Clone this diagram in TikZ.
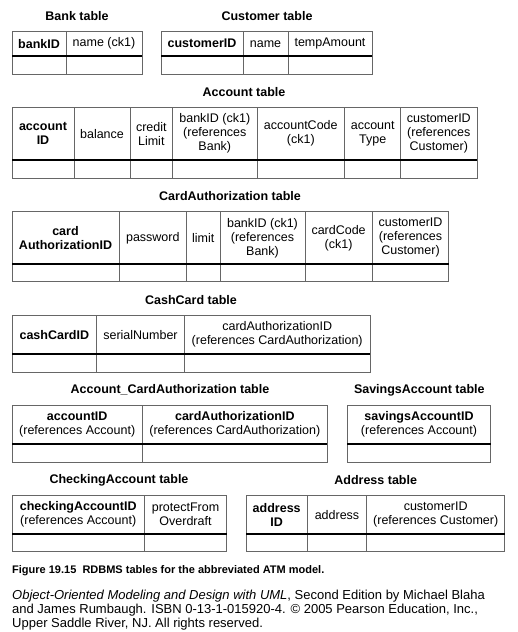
\documentclass[tikz,border=0pt]{standalone}
\usepackage{fontspec}
\setmainfont{Liberation Sans}
\usetikzlibrary{positioning}
\tikzset{
  ttl/.style={font=\fontsize{12.5}{14}\selectfont\bfseries},
  hd/.style={align=center, inner sep=0pt, font=\fontsize{12.5}{14}\selectfont},
  grid/.style={draw=black!60, line width=0.8pt},
  sepline/.style={draw=black, line width=2pt},
  capt/.style={anchor=west, inner sep=0pt, align=left, font=\fontsize{11}{14}\selectfont}
}
\begin{document}
\begin{tikzpicture}[x=1pt, y=-1pt]
	\useasboundingbox (0,0) rectangle (518,632);
	% Bank
	\node[ttl] (banktitle) at (77,16) {Bank table};
	\draw[grid] (12,31.7) rectangle (142,74);
	\draw[grid] (66,31.7) -- (66,74);
	\draw[sepline] (12,55.7) -- (142,55.7);
	\node[hd] (bankid) at (39,43.7) {\textbf{bankID}};
	\node[hd] (bankname) at (104,43.7) {name (ck1)};
	% Customer
	\node[ttl] (custtitle) at (267,16) {Customer table};
	\draw[grid] (161,31.7) rectangle (372,74);
	\foreach \x in {243,288} \draw[grid] (\x,31.7) -- (\x,74);
	\draw[sepline] (161,55.7) -- (372,55.7);
	\node[hd] (custid) at (202,43.7) {\textbf{customerID}};
	\node[hd] (custname) at (265.5,43.7) {name};
	\node[hd] (custamount) at (330,43.7) {tempAmount};
	% Account
	\node[ttl] (accttitle) at (244,92) {Account table};
	\draw[grid] (12,107.7) rectangle (477,178);
	\foreach \x in {74,130,172.7,257,344.7,400.7} \draw[grid] (\x,107.7) -- (\x,178);
	\draw[sepline] (12,159.7) -- (477,159.7);
	\node[hd] (acctid) at (43,133.7) {\textbf{account}\\\textbf{ID}};
	\node[hd] (acctbal) at (102,133.7) {balance};
	\node[hd] (acctlimit) at (151.3,133.7) {credit\\Limit};
	\node[hd] (acctbank) at (214.8,133.7) {bankID (ck1)\\(references\\Bank)};
	\node[hd] (acctcode) at (300.8,133.7) {accountCode\\(ck1)};
	\node[hd] (accttype) at (372.7,133.7) {account\\Type};
	\node[hd] (acctcust) at (438.8,133.7) {customerID\\(references\\Customer)};
	% CardAuthorization
	\node[ttl] (authtitle) at (230,196) {CardAuthorization table};
	\draw[grid] (12,211.7) rectangle (448.7,281.7);
	\foreach \x in {119,186.7,220,305,372.3} \draw[grid] (\x,211.7) -- (\x,281.7);
	\draw[sepline] (12,264) -- (448.7,264);
	\node[hd] (authid) at (65.5,237.8) {\textbf{card}\\\textbf{AuthorizationID}};
	\node[hd] (authpw) at (152.8,237.8) {password};
	\node[hd] (authlimit) at (203.3,237.8) {limit};
	\node[hd] (authbank) at (262.5,237.8) {bankID (ck1)\\(references\\Bank)};
	\node[hd] (authcode) at (338.6,237.8) {cardCode\\(ck1)};
	\node[hd] (authcust) at (410.5,237.8) {customerID\\(references\\Customer)};
	% CashCard
	\node[ttl] (cashtitle) at (191,300) {CashCard table};
	\draw[grid] (12,315.7) rectangle (370,372.3);
	\foreach \x in {96.7,184.3} \draw[grid] (\x,315.7) -- (\x,372.3);
	\draw[sepline] (12,353.7) -- (370,353.7);
	\node[hd] (cashid) at (54.3,334.7) {\textbf{cashCardID}};
	\node[hd] (cashserial) at (140.5,334.7) {serialNumber};
	\node[hd] (cashauth) at (277.2,334.7) {cardAuthorizationID\\(references CardAuthorization)};
	% Account_CardAuthorization
	\node[ttl] (linktitle) at (170,390) {Account\_CardAuthorization table};
	\draw[grid] (12,405.7) rectangle (327.3,462);
	\draw[grid] (142.3,405.7) -- (142.3,462);
	\draw[sepline] (12,443.7) -- (327.3,443.7);
	\node[hd] (linkacct) at (77.2,424.7) {\textbf{accountID}\\(references Account)};
	\node[hd] (linkauth) at (234.8,424.7) {\textbf{cardAuthorizationID}\\(references CardAuthorization)};
	% SavingsAccount
	\node[ttl] (savtitle) at (419.3,390) {SavingsAccount table};
	\draw[grid] (347.3,405.7) rectangle (490.7,462);
	\draw[sepline] (347.3,443.7) -- (490.7,443.7);
	\node[hd] (savid) at (419,424.7) {\textbf{savingsAccountID}\\(references Account)};
	% CheckingAccount
	\node[ttl] (chktitle) at (119,480) {CheckingAccount table};
	\draw[grid] (12,495.7) rectangle (226.7,551.7);
	\draw[grid] (144.3,495.7) -- (144.3,551.7);
	\draw[sepline] (12,533.7) -- (226.7,533.7);
	\node[hd] (chkid) at (78.2,514.7) {\textbf{checkingAccountID}\\(references Account)};
	\node[hd] (chkprot) at (185.5,514.7) {protectFrom\\Overdraft};
	% Address
	\node[ttl] (addrtitle) at (375.7,480) {Address table};
	\draw[grid] (246,495.7) rectangle (504.7,551.7);
	\foreach \x in {307.3,366.7} \draw[grid] (\x,495.7) -- (\x,551.7);
	\draw[sepline] (246,533.7) -- (504.7,533.7);
	\node[hd] (addrid) at (276.7,514.7) {\textbf{address}\\\textbf{ID}};
	\node[hd] (addrtext) at (337,514.7) {address};
	\node[hd] (addrcust) at (435.7,514.7) {customerID\\(references Customer)};
	% caption
	\node[capt] (figcap) at (12,570.7) {\textbf{Figure 19.15\ \ RDBMS tables for the abbreviated ATM model.}};
	\node[capt, font=\fontsize{13}{14}\selectfont] (credit) at (12,610.3) {\textit{Object-Oriented Modeling and Design with UML}, Second Edition by Michael Blaha\\and James Rumbaugh. ISBN 0-13-1-015920-4. © 2005 Pearson Education, Inc.,\\Upper Saddle River, NJ. All rights reserved.};
\end{tikzpicture}
\end{document}
